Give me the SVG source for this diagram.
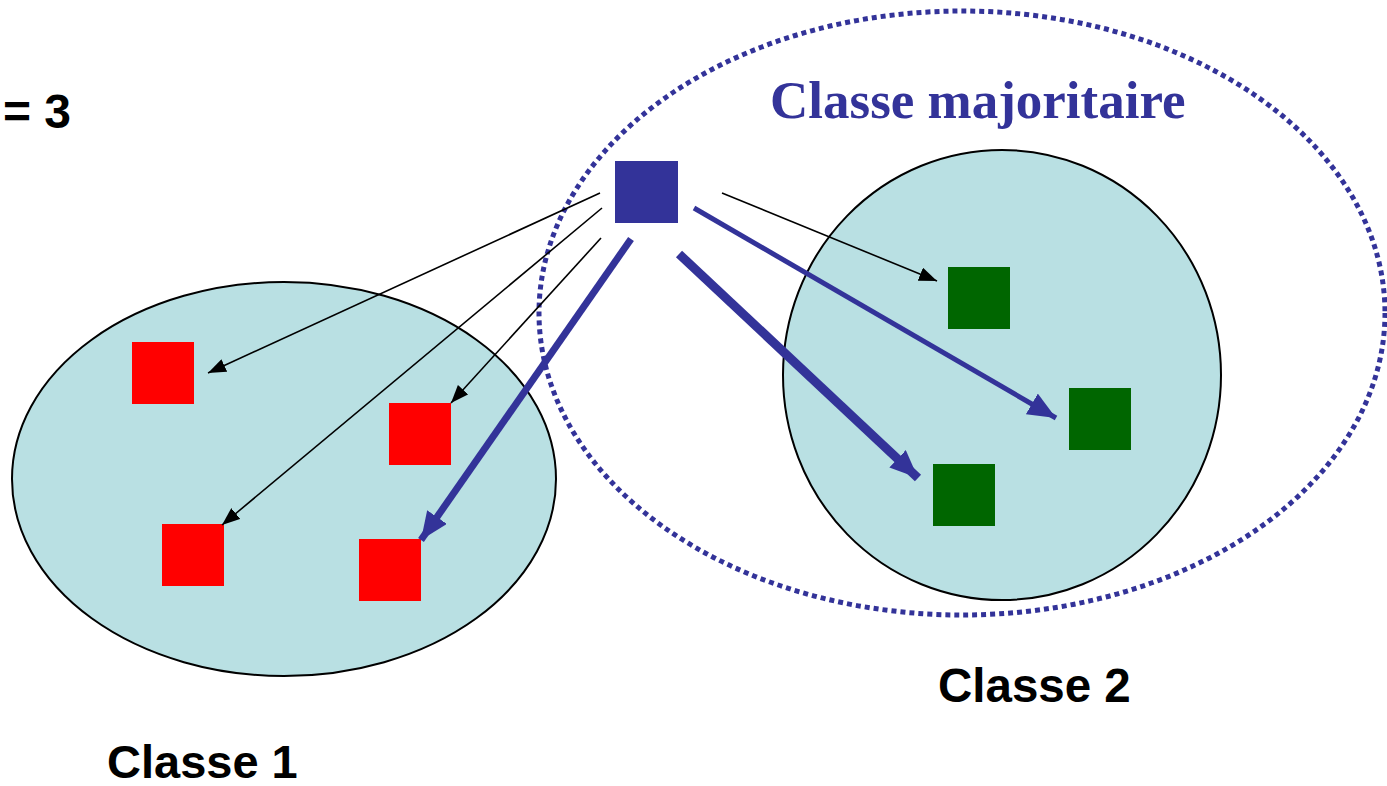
<svg xmlns="http://www.w3.org/2000/svg" width="1387" height="786" viewBox="0 0 1387 786">
<style>
.cls{fill:#b9e0e3;stroke:#000;stroke-width:2}
.red{fill:#ff0000}
.green{fill:#006600}
.thin{stroke:#000;stroke-width:1.6;fill:none}
.blue{stroke:#333399;fill:none}
.lbl{font-family:"Liberation Sans",Arial,sans-serif;font-weight:bold;fill:#000}
</style>
<defs>
<marker id="ah" markerUnits="userSpaceOnUse" markerWidth="20" markerHeight="14" refX="18" refY="7" orient="auto">
<path d="M0,0 L18,7 L0,14 z" fill="#000"/>
</marker>
<marker id="ahb" markerUnits="userSpaceOnUse" markerWidth="30" markerHeight="24" refX="28" refY="12" orient="auto">
<path d="M0,0 L28,12 L0,24 z" fill="#333399"/>
</marker>
</defs>
<rect width="1387" height="786" fill="#fff"/>
<g id="class1"><ellipse class="cls" cx="284" cy="479" rx="272" ry="197"/></g>
<g id="class2"><ellipse class="cls" cx="1002" cy="375" rx="219" ry="225"/></g>
<g id="majority"><ellipse cx="962" cy="313" rx="423" ry="302" fill="none" stroke="#333399" stroke-width="5" stroke-dasharray="5 4"/></g>
<g id="r1"><rect class="red" x="132" y="342" width="62" height="62"/></g>
<g id="r2"><rect class="red" x="389" y="403" width="62" height="62"/></g>
<g id="r3"><rect class="red" x="162" y="524" width="62" height="62"/></g>
<g id="r4"><rect class="red" x="359" y="539" width="62" height="62"/></g>
<g id="g1"><rect class="green" x="948" y="267" width="62" height="62"/></g>
<g id="g2"><rect class="green" x="1069" y="388" width="62" height="62"/></g>
<g id="g3"><rect class="green" x="933" y="464" width="62" height="62"/></g>
<g id="query"><rect x="615" y="161" width="63" height="62" fill="#333399"/></g>
<g id="connectors">
<line class="thin" x1="600" y1="193" x2="208" y2="373" marker-end="url(#ah)"/>
<line class="thin" x1="602" y1="208" x2="222" y2="525" marker-end="url(#ah)"/>
<line class="thin" x1="601" y1="238" x2="451" y2="403" marker-end="url(#ah)"/>
<line class="thin" x1="722" y1="193" x2="937" y2="281" marker-end="url(#ah)"/>
<line class="blue" stroke-width="7" x1="631" y1="239" x2="421" y2="540" marker-end="url(#ahb)"/>
<line class="blue" stroke-width="5" x1="694" y1="208" x2="1056" y2="418" marker-end="url(#ahb)"/>
<line class="blue" stroke-width="9" x1="679" y1="254" x2="918" y2="478" marker-end="url(#ahb)"/>
</g>
<text class="lbl" x="3" y="128" font-size="48">= 3</text>
<text x="770" y="118" font-family="'Liberation Serif','Times New Roman',serif" font-weight="bold" font-size="53" fill="#333399">Classe majoritaire</text>
<text class="lbl" x="938" y="702" font-size="47.5">Classe 2</text>
<text class="lbl" x="107" y="778" font-size="47">Classe 1</text>
</svg>
